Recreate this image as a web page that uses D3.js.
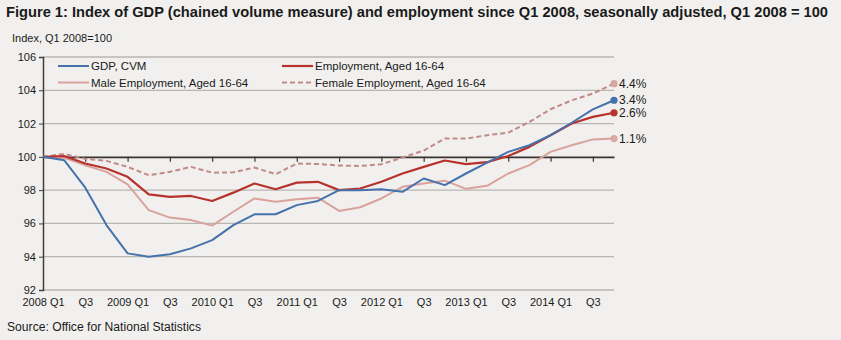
<!DOCTYPE html>
<html>
<head>
<meta charset="utf-8">
<script src="https://d3js.org/d3.v7.min.js"></script>
<style>
body { margin: 0; background: #f1f0ee; }
text { font-family: "Liberation Sans", Arial, sans-serif; fill: #1a1a1a; }
</style>
</head>
<body>
<svg id="chart" width="841" height="340"></svg>
<script>
// quarters from Q1 2008 to Q4 2014
var quarters = ["2008 Q1","2008 Q2","2008 Q3","2008 Q4","2009 Q1","2009 Q2","2009 Q3","2009 Q4",
  "2010 Q1","2010 Q2","2010 Q3","2010 Q4","2011 Q1","2011 Q2","2011 Q3","2011 Q4",
  "2012 Q1","2012 Q2","2012 Q3","2012 Q4","2013 Q1","2013 Q2","2013 Q3","2013 Q4",
  "2014 Q1","2014 Q2","2014 Q3","2014 Q4"];

var gdp = [100, 99.8, 98.15, 95.9, 94.2, 94.0, 94.15, 94.5, 95.0, 95.9, 96.55, 96.55, 97.1, 97.35,
  98.0, 98.0, 98.05, 97.9, 98.7, 98.3, 99.0, 99.65, 100.3, 100.7, 101.3, 102.05, 102.85, 103.4];
var employment = [100, 100.05, 99.6, 99.3, 98.8, 97.75, 97.6, 97.65, 97.35, 97.85, 98.4, 98.05, 98.45, 98.5,
  98.0, 98.1, 98.5, 99.0, 99.4, 99.78, 99.56, 99.68, 100.05, 100.6, 101.3, 102.0, 102.4, 102.65];
var male = [100, 99.95, 99.5, 99.1, 98.35, 96.8, 96.35, 96.2, 95.87, 96.7, 97.5, 97.3, 97.45, 97.55,
  96.75, 96.97, 97.5, 98.2, 98.4, 98.57, 98.08, 98.26, 99.0, 99.5, 100.3, 100.7, 101.05, 101.1];
var female = [100, 100.18, 99.88, 99.76, 99.4, 98.9, 99.1, 99.4, 99.05, 99.07, 99.36, 98.96, 99.6, 99.57,
  99.48, 99.45, 99.56, 99.96, 100.38, 101.1, 101.1, 101.3, 101.45, 102.1, 102.86, 103.4, 103.8, 104.4];

var yTicks = [92, 94, 96, 98, 100, 102, 104, 106];
var seriesNames = ["GDP, CVM", "Employment, Aged 16-64", "Male Employment, Aged 16-64", "Female Employment, Aged 16-64"];
var endLabels = ["3.4%", "2.6%", "1.1%", "4.4%"];

var series = [
  {name: seriesNames[0], values: gdp, color: "#4672ab", dot: "#4672ab", dash: null, w: 2},
  {name: seriesNames[1], values: employment, color: "#b7322c", dot: "#b7322c", dash: null, w: 2.2},
  {name: seriesNames[2], values: male, color: "#d9a29c", dot: "#d9aaa5", dash: null, w: 2},
  {name: seriesNames[3], values: female, color: "#c28a86", dot: "#d8a6a1", dash: "5,3", w: 2}
];

var svg = d3.select("#chart");

var x = d3.scalePoint().domain(quarters).range([43, 614]);
var y = d3.scaleLinear().domain([92, 106]).range([290, 57]);

// title
svg.append("text")
  .attr("x", 6).attr("y", 17)
  .style("font-size", "14.5px").style("font-weight", "bold")
  .attr("textLength", 822).attr("lengthAdjust", "spacingAndGlyphs")
  .text("Figure 1: Index of GDP (chained volume measure) and employment since Q1 2008, seasonally adjusted, Q1 2008 = 100");

svg.append("text")
  .attr("x", 12).attr("y", 42)
  .style("font-size", "11.5px")
  .attr("textLength", 100).attr("lengthAdjust", "spacingAndGlyphs")
  .text("Index, Q1 2008=100");

// gridlines
svg.append("g").selectAll("line")
  .data(yTicks.filter(function(d){ return d !== 100; }))
  .enter().append("line")
  .attr("x1", 43).attr("x2", 614)
  .attr("y1", function(d){ return y(d); }).attr("y2", function(d){ return y(d); })
  .attr("stroke", "#b9b6b2").attr("stroke-width", 1.3);

// y axis
var yAxis = svg.append("g")
  .attr("transform", "translate(43,0)")
  .call(d3.axisLeft(y).tickValues(yTicks).tickSize(4).tickPadding(3));
yAxis.select(".domain").attr("stroke", "#443c38").attr("stroke-width", 1.5);
yAxis.selectAll(".tick line").attr("stroke", "#443c38");
yAxis.selectAll("text").style("font-size", "11px").style("font-family", "Liberation Sans, Arial").attr("fill", "#1a1a1a");

// x axis at 100 with ticks
var tickQuarters = quarters.filter(function(d, i){ return i > 0 && i % 2 === 0; });
var xAxis = svg.append("g")
  .attr("transform", "translate(0," + y(100) + ")")
  .call(d3.axisBottom(x).tickValues(tickQuarters).tickSize(5).tickSizeOuter(0).tickFormat(""));
xAxis.select(".domain").attr("stroke", "#3a3330").attr("stroke-width", 1.6);
xAxis.selectAll(".tick line").attr("stroke", "#3a3330").attr("stroke-width", 1.2);

// x labels at bottom
var labelQuarters = quarters.filter(function(d, i){ return i % 2 === 0; });
var xLab = svg.append("g")
  .attr("transform", "translate(0," + y(92) + ")")
  .call(d3.axisBottom(x).tickValues(labelQuarters).tickSize(0).tickPadding(8)
    .tickFormat(function(d){ return d.slice(5) === "Q1" ? d : d.slice(5); }));
xLab.select(".domain").remove();
xLab.selectAll("text").style("font-size", "11px").style("font-family", "Liberation Sans, Arial").attr("fill", "#1a1a1a");

// lines
var line = d3.line()
  .x(function(d, i){ return x(quarters[i]); })
  .y(function(d){ return y(d); });

var drawOrder = [2, 3, 1, 0];
drawOrder.forEach(function(k){
  var s = series[k];
  svg.append("path")
    .datum(s.values)
    .attr("fill", "none")
    .attr("stroke", s.color)
    .attr("stroke-width", s.w)
    .attr("stroke-dasharray", s.dash)
    .attr("stroke-linejoin", "round")
    .attr("d", line);
});

// end markers and labels
series.forEach(function(s, k){
  var last = s.values.length - 1;
  svg.append("circle")
    .attr("cx", x(quarters[last])).attr("cy", y(s.values[last]))
    .attr("r", 3.6).attr("fill", s.dot);
  svg.append("text")
    .attr("x", x(quarters[last]) + 5).attr("y", y(s.values[last]))
    .attr("dy", "0.35em")
    .style("font-size", "12px")
    .text(endLabels[k]);
});

// legend
var legendPos = [[58, 66], [282, 66], [58, 82.5], [282, 82.5]];
series.forEach(function(s, k){
  var p = legendPos[k];
  svg.append("line")
    .attr("x1", p[0]).attr("x2", p[0] + 31)
    .attr("y1", p[1]).attr("y2", p[1])
    .attr("stroke", s.color).attr("stroke-width", s.w)
    .attr("stroke-dasharray", s.dash);
  svg.append("text")
    .attr("x", p[0] + 33).attr("y", p[1])
    .attr("dy", "0.35em")
    .style("font-size", "11.5px")
    .text(s.name);
});

// source
svg.append("text")
  .attr("x", 7).attr("y", 331)
  .style("font-size", "12px")
  .attr("textLength", 194).attr("lengthAdjust", "spacingAndGlyphs")
  .text("Source: Office for National Statistics");
</script>
</body>
</html>
